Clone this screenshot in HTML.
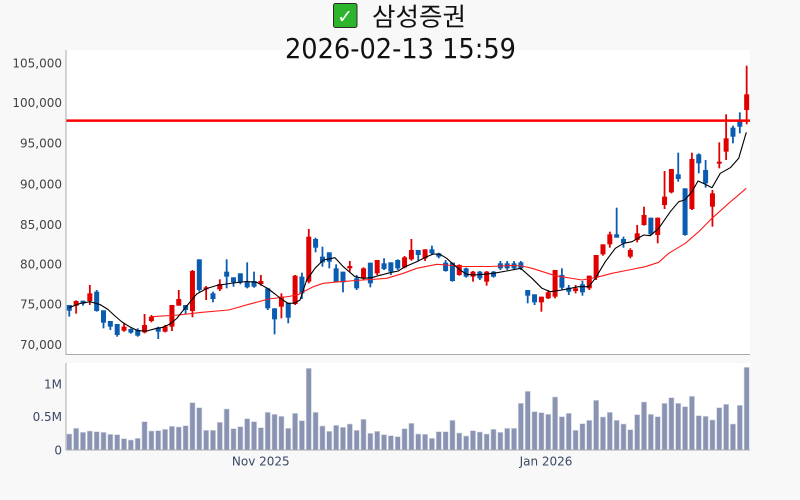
<!DOCTYPE html>
<html><head><meta charset="utf-8"><style>
html,body{margin:0;padding:0;background:#f8f8f8;}
svg{display:block;}
</style></head><body>
<svg id="c" xmlns="http://www.w3.org/2000/svg" width="800" height="500" viewBox="0 0 800 500">
<rect x="0" y="0" width="800" height="500" fill="#f8f8f8"/>
<rect x="66" y="50" width="684" height="305" fill="#ffffff"/>
<rect x="66" y="363" width="684" height="87" fill="#ffffff"/>
<g id="vol"></g>
<g id="cand"></g>
<g id="lines"></g>
<line x1="66" y1="120.6" x2="750" y2="120.6" stroke="#ff0000" stroke-width="2.5"/>
<line x1="66" y1="50" x2="66" y2="355" stroke="#aaaaaa" stroke-width="1"/>
<line x1="66" y1="354.5" x2="750" y2="354.5" stroke="#aaaaaa" stroke-width="1"/>
<line x1="66" y1="363" x2="66" y2="450" stroke="#aaaaaa" stroke-width="1"/>
<line x1="66" y1="450" x2="750" y2="450" stroke="#aaaaaa" stroke-width="1"/>
<g font-family="DejaVu Sans, Liberation Sans, sans-serif" font-size="12" fill="#444" text-anchor="end">
<text x="62" y="67.7">105,000</text>
<text x="62" y="107.1">100,000</text>
<text x="62" y="147.7">95,000</text>
<text x="62" y="188.4">90,000</text>
<text x="62" y="229.1">85,000</text>
<text x="62" y="268.4">80,000</text>
<text x="62" y="308.7">75,000</text>
<text x="62" y="349.1">70,000</text>
</g>
<g font-family="DejaVu Sans, Liberation Sans, sans-serif" font-size="12" fill="#3a4866" text-anchor="end">
<text x="62" y="388.7">1M</text>
<text x="62" y="421.1">0.5M</text>
<text x="62" y="454.4">0</text>
</g>
<g font-family="DejaVu Sans, Liberation Sans, sans-serif" font-size="12" fill="#3a4866" text-anchor="middle">
<text x="260.8" y="465.5">Nov 2025</text>
<text x="546" y="465.5">Jan 2026</text>
</g>
<rect x="333.5" y="3.5" width="23.5" height="24" rx="2" fill="#2cb52c" stroke="#2a2a2a" stroke-width="1"/>
<text x="345.2" y="23" font-family="DejaVu Sans, sans-serif" font-size="19" font-weight="bold" fill="#ffffff" text-anchor="middle">✓</text>
<text x="372" y="25.5" font-family="'Liberation Sans','Noto Sans CJK KR',sans-serif" font-size="25" fill="#111" textLength="94" lengthAdjust="spacingAndGlyphs">삼성증권</text>
<text x="285" y="58" font-family="'DejaVu Sans','Liberation Sans',sans-serif" font-size="28" fill="#111" textLength="231" lengthAdjust="spacingAndGlyphs">2026-02-13 15:59</text>
</svg>
<script>
(function(){
var NS='http://www.w3.org/2000/svg';
function el(t,a,p){var e=document.createElementNS(NS,t);for(var k in a)e.setAttribute(k,a[k]);p.appendChild(e);return e;}
var X0=69.3,DX=6.842;
var VB=[222,205,217,213,215,217,223,224,236,240,235,185,213,212,208,199,201,197,128,143,211,211,187,147,206,200,176,185,203,157,163,169,205,160,182,25,157,198,214,196,202,192,211,178,220,214,224,227,230,206,190,222,223,235,215,215,181,219,228,212,216,222,208,217,205,205,130,94,155,158,163,111,170,160,211,191,181,121,171,157,181,192,209,164,126,163,170,130,113,130,140,109,167,169,180,143,133,192,136,22];
var vg=document.getElementById('vol');
for(var i=0;i<VB.length;i++){var x=X0+i*DX;var top=360+VB[i]/3;
el('rect',{x:(x-2.6).toFixed(2),y:top.toFixed(2),width:5.2,height:(450-top).toFixed(2),fill:'#8a93b1',stroke:'#d3d8e4','stroke-width':0.6},vg);}
var G=[[225,[[0,240,240,257,275],[1,226,228,242,266],[0,227,227,236,242],[1,180,205,228,240],[0,195,200,258,260],[0,256,256,293,310],[0,288,288,305,315],[0,297,297,330,335],[1,295,305,317,320],[0,310,312,323,326],[0,310,315,332,335],[1,267,300,322,325],[1,270,275,288,292],[0,305,308,320,342],[1,300,304,320,322],[1,240,240,305,318],[1,195,222,242,242],[0,240,240,255,268],[1,135,138,258,277],[0,103,103,195,200],[1,183,187,192,225],[0,200,205,222,232],[1,163,177,193,198],[0,103,140,155,190],[0,157,157,172,185],[0,145,145,173,178],[0,112,170,187,190],[0,140,168,185,188],[1,150,168,177,182],[0,190,190,250,255],[0,250,250,283,328],[1,205,215,245,280],[0,233,233,278,295],[1,150,152,237,240]]],
[225,[[0,143,155,205,222],[1,12,35,170,175],[0,38,42,68,82],[0,65,95,112,125],[0,82,82,110,130],[0,118,130,172,172],[0,140,140,172,202],[1,108,123,130,140],[0,150,160,190,195],[1,127,130,160,165],[0,113,113,175,187],[1,105,105,145,150],[0,100,115,132,135],[0,112,112,140,150],[0,103,105,130,135],[1,93,97,127,130],[1,42,75,103,107],[0,75,75,90,108],[1,73,73,100,108],[0,62,73,85,90],[0,83,85,95,100],[0,105,113,138,140],[0,113,113,168,170],[1,118,120,150,152],[0,128,130,155,158],[1,138,140,155,170],[0,138,140,160,165],[1,138,140,170,182],[0,138,140,155,158],[0,108,115,130,135],[0,108,115,130,135],[0,108,115,130,135],[0,108,112,130,135]]],
[55,[[0,705,705,722,745],[0,718,718,742,750],[1,725,725,742,770],[1,705,712,730,732],[1,645,645,725,730],[0,640,660,698,705],[0,690,698,710,720],[1,690,700,708,715],[0,678,688,712,722],[1,662,662,700,705],[1,600,600,668,675],[1,568,568,598,602],[1,530,538,568,578],[0,458,538,548,548],[0,545,552,565,578],[1,580,585,605,610],[1,510,535,555,562],[1,455,480,510,512],[0,488,488,538,540],[1,488,488,540,565],[1,348,425,450,462],[1,342,342,412,415],[0,293,358,372,380],[0,400,400,540,542],[1,293,312,462,465],[0,295,298,325,355],[0,315,345,385,398],[1,405,415,455,515],[1,262,320,325,340],[1,178,250,290,315],[0,212,218,245,265],[0,172,198,215,235],[1,32,118,165,208]]]];
var cg=document.getElementById('cand');var idx=0;
for(var g=0;g<G.length;g++){var b=G[g][0],arr=G[g][1];
for(var j=0;j<arr.length;j++){var d=arr[j];var x=X0+idx*DX;var col=d[0]?'#e00000':'#0a5cb0';
var wt=b+d[1]/3,bt=b+d[2]/3,bb=b+d[3]/3,wb=b+d[4]/3;
el('line',{x1:x.toFixed(2),x2:x.toFixed(2),y1:wt.toFixed(2),y2:wb.toFixed(2),stroke:col,'stroke-width':1.8},cg);
var h=Math.max(bb-bt,2);
el('rect',{x:(x-2.5).toFixed(2),y:bt.toFixed(2),width:5,height:h.toFixed(2),fill:col},cg);
idx++;}}
var lg=document.getElementById('lines');
var K=[[69,307.7],[80,303.5],[90,301.7],[100,304.5],[108,309.5],[115,316],[122,322],[130,327],[138,330.7],[146.7,331],[156.7,328.3],[163,327.3],[170,324],[176.7,318.5],[186.7,306],[196.7,294],[206.7,288.5],[216.7,285.5],[233,283],[246.7,281.5],[256.7,282.3],[267.7,288.5],[275,294],[281.3,299],[288.3,303.5],[295,303],[300,300],[306.7,280],[315,268.3],[323.3,260],[335,257.7],[343.3,266.7],[355,276.7],[363.3,278.3],[371.7,277.7],[378.3,275.7],[390,272.7],[398.3,271],[405,266.7],[416.7,261.7],[426.7,256.7],[433.3,254],[440,254.3],[446.7,258.3],[453.3,264.3],[460,270],[466.7,274.3],[473.3,275],[483.3,274.3],[493.3,273.3],[506.7,271],[520.7,268.3],[532,278.3],[542,288.3],[550.3,291.7],[562,290],[578.7,286.7],[588.7,286.7],[595.3,278.3],[605.3,261.7],[615.3,248.3],[623.7,243.3],[632,241.7],[643.7,235],[650.3,235.7],[658.7,228.3],[670.3,211.7],[678.7,201.7],[684.7,200],[692,191.7],[698,181],[705.3,184.3],[712,187.7],[720.3,173.3],[730.3,167.7],[738.7,158.3],[746.3,132.3]];
var R=[[151.3,316.7],[178.7,315],[202,312.3],[228.7,310],[248.7,304.3],[268.7,299],[288.7,296.5],[298.7,294.5],[303.3,291.7],[313.3,286.7],[323.3,283.3],[340,281.7],[363.3,280],[386.7,278.3],[403.3,273.3],[416.7,268.3],[436.7,264.3],[446.7,265],[463.3,266.5],[490,266.5],[512,265.5],[522,266],[532,268.3],[555.3,275.7],[582,280],[595.3,277.7],[612,273.3],[628.7,270],[645.3,266.7],[658.7,262.3],[668.7,253.3],[685.3,243.3],[698.7,231.7],[712,218.3],[728.7,203.3],[746.3,188.3]];
function pts(a){return a.map(function(p){return p[0]+','+p[1];}).join(' ');}
el('polyline',{points:pts(R),fill:'none',stroke:'#ff1a1a','stroke-width':1.1,'stroke-linejoin':'round'},lg);
el('polyline',{points:pts(K),fill:'none',stroke:'#000000','stroke-width':1.1,'stroke-linejoin':'round'},lg);
})();
</script>
</body></html>
